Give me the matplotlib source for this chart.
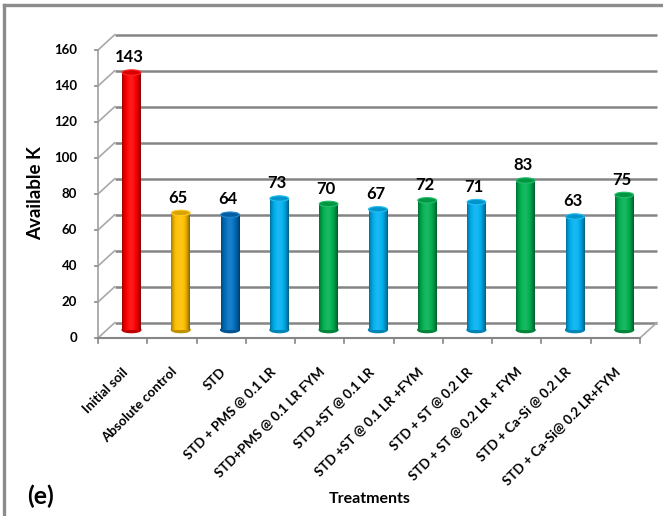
import numpy as np
import matplotlib
matplotlib.use("Agg")
import matplotlib.pyplot as plt
from matplotlib.patches import Ellipse
from matplotlib.lines import Line2D
from matplotlib.colors import to_rgb

plt.rcParams['font.family'] = ['Lato', 'DejaVu Sans']

treatments = ["Initial soil", "Absolute control", "STD", "STD + PMS @ 0.1 LR",
              "STD+PMS @ 0.1 LR FYM", "STD +ST @ 0.1 LR", "STD +ST @ 0.1 LR +FYM",
              "STD + ST @ 0.2 LR", "STD + ST @ 0.2 LR + FYM", "STD + Ca-Si @ 0.2 LR",
              "STD + Ca-Si@ 0.2 LR+FYM"]
available_k = [143, 65, 64, 73, 70, 67, 72, 71, 83, 63, 75]
bar_colors = ["#FF0000", "#FFC000", "#0070C0", "#00B0F0", "#00B050", "#00B0F0",
              "#00B050", "#00B0F0", "#00B050", "#00B0F0", "#00B050"]
y_ticks = [0, 20, 40, 60, 80, 100, 120, 140, 160]

fig = plt.figure(figsize=(6.63, 5.16), dpi=100)
ax = fig.add_axes([98 / 663, 1 - 338 / 516, 542 / 663, 288 / 516])
n = len(treatments)
ax.set_xlim(-0.5, n - 0.5)
ax.set_ylim(0, 160)
for s in ax.spines.values():
    s.set_visible(False)
ax.set_xticks([])
ax.set_yticks([])
ax.set_facecolor('none')

# depth offsets: back wall and the mid-plane where the cylinders stand
dxw, dyw = 0.34, 8.5
dxb, dyb = 0.18, 4.5
grid_c = "#858585"
x0, x1 = -0.5, n - 0.5
for v in y_ticks:
    ax.plot([x0 + dxw, x1 + dxw], [v + dyw, v + dyw], color=grid_c, lw=1.8,
            clip_on=False, zorder=1, solid_capstyle='butt')
    ax.plot([x0, x0 + dxw], [v, v + dyw], color="#a8a8a8", lw=1.2, clip_on=False, zorder=1)
    ax.plot([x0 - 0.06, x0], [v, v], color="#858585", lw=1.2, clip_on=False, zorder=1)
    ax.text(x0 - 0.42, v, str(v), ha='right', va='center', fontsize=9.5,
            fontweight='bold', color='black')
# side wall and floor edges
ax.plot([x0, x0], [0, 160], color="#a0a0a0", lw=1.2, clip_on=False, zorder=1)
ax.plot([x0, x1], [0, 0], color="#858585", lw=1.5, clip_on=False, zorder=1)
ax.plot([x1, x1 + dxw], [0, dyw], color="#a8a8a8", lw=1.2, clip_on=False, zorder=1)
for i in range(n + 1):
    ax.plot([x0 + i, x0 + i], [0, -2.8], color="#858585", lw=1.2, clip_on=False, zorder=1)

# cylinder shading profile across the bar width
u = np.linspace(0, 1, 80)
prof = 0.62 + 0.55 * np.sin(np.pi * u) ** 0.8 - 0.12 * u
w = 0.38
for i, (v, c) in enumerate(zip(available_k, bar_colors)):
    base = np.array(to_rgb(c))
    shade = np.empty((1, len(u), 3))
    for k, p in enumerate(prof):
        if p <= 1:
            shade[0, k] = base * p
        else:
            shade[0, k] = base + (1 - base) * (p - 1) * 0.9
    xc = i + dxb
    ax.imshow(shade, extent=[xc - w / 2, xc + w / 2, dyb, v + dyb], aspect='auto',
              interpolation='bilinear', zorder=3, clip_on=False)
    ax.add_patch(Ellipse((xc, dyb), w, 3.0, color=base * 0.75, zorder=2.9, clip_on=False))
    top = base + (1 - base) * 0.15
    ax.add_patch(Ellipse((xc, v + dyb), w, 3.0, facecolor=base * 0.85, edgecolor=top,
                         lw=0.8, zorder=3.2, clip_on=False))
    ax.text(xc - 0.05, v + dyb + 4.0, str(v), ha='center', va='bottom', fontsize=12,
            fontweight='bold', color='black', zorder=5, clip_on=False)

# rotated category labels
for i, t in enumerate(treatments):
    ax.annotate(t, xy=(i + 0.06, 0), xycoords='data', xytext=(0, -23),
                textcoords='offset points', rotation=45, ha='right', va='center',
                rotation_mode='anchor', fontsize=9.6, fontweight='bold',
                color='black')

fig.text(36 / 663, 1 - 193 / 516, "Available K", rotation=90, ha='center', va='center',
         fontsize=13.5, fontweight='bold')
fig.text(370 / 663, 1 - 499 / 516, "Treatments", ha='center', va='center',
         fontsize=11.5, fontweight='bold')
fig.text(41 / 663, 1 - 496 / 516, "(e)", ha='center', va='center', fontsize=18,
         fontweight='bold')

# outer frame (left and top edges)
fig.lines.append(Line2D([4 / 663, 4 / 663], [0, 1 - 5 / 516], transform=fig.transFigure,
                        color="#8c8c8c", lw=2.4))
fig.lines.append(Line2D([4 / 663, 1], [1 - 5 / 516, 1 - 5 / 516], transform=fig.transFigure,
                        color="#8c8c8c", lw=2.4))

fig.savefig("out.png", dpi=100)
